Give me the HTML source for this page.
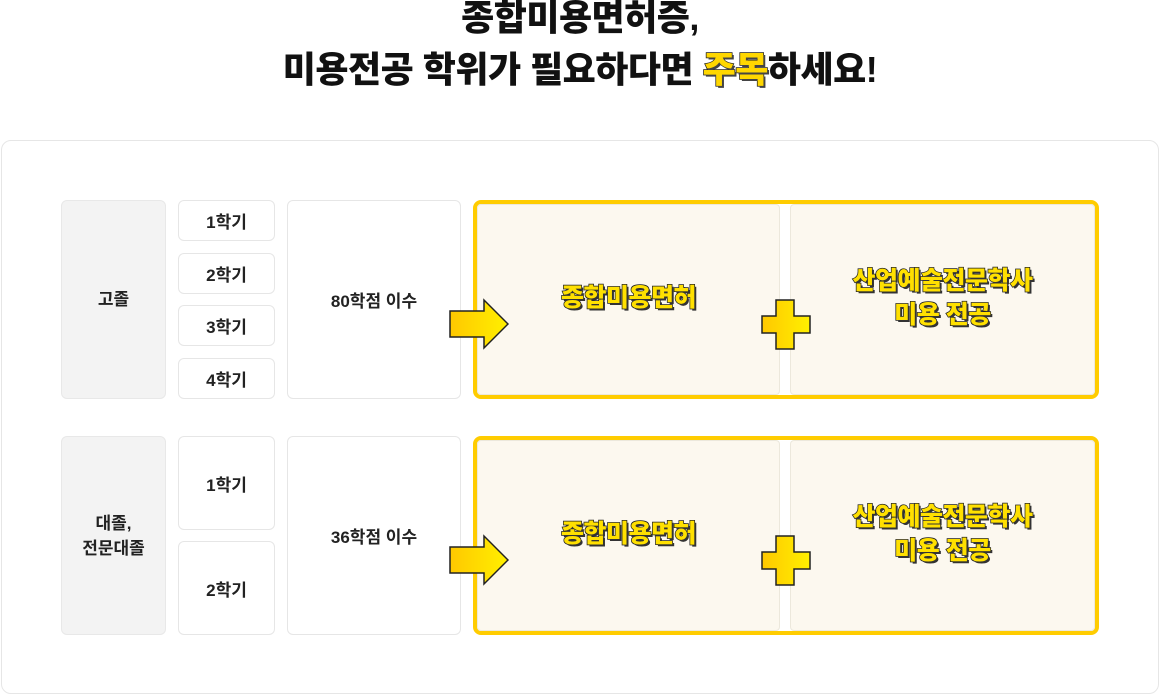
<!DOCTYPE html>
<html><head><meta charset="utf-8"><style>
body{margin:0;width:1160px;height:696px;background:#fff;font-family:"Liberation Sans","Noto Sans CJK KR",sans-serif;position:relative;overflow:hidden}
.a{position:absolute;box-sizing:border-box}
.t{left:0;width:1160px;text-align:center;font-weight:900;font-size:36px;color:#111;letter-spacing:-0.5px}
.card{left:1px;top:140px;width:1158px;height:554px;border:1px solid #e6e6e6;border-radius:10px}
.g{background:#f3f3f3;border:1px solid #e8e8e8;border-radius:6px;display:flex;align-items:center;justify-content:center;text-align:center;font-size:17px;font-weight:700;color:#222;line-height:25px}
.w{background:#fff;border:1px solid #e6e6e6;border-radius:6px;display:flex;align-items:center;justify-content:center;font-size:17px;font-weight:700;color:#222}
.yb{border:4px solid #ffcc00;border-radius:8px}
.c{background:#fcf8ef;border:1px solid #ece8dc;border-radius:4px;display:flex;align-items:center;justify-content:center;text-align:center}
.yt{font-size:25px;font-weight:900;color:#ffe000;line-height:34px;-webkit-text-stroke:1.5px #222;paint-order:stroke fill;text-shadow:2px 2px 0 #333;letter-spacing:-0.5px;margin-top:-4px}
.hl{color:#ffd700;-webkit-text-stroke:1.5px #222;paint-order:stroke fill;text-shadow:2px 2px 0 #444}
</style></head><body>
<div class="a t" style="top:-2px;line-height:40px">종합미용면허증,</div>
<div class="a t" style="top:50px;line-height:40px">미용전공 학위가 필요하다면 <span class="hl">주목</span>하세요!</div>
<div class="a card"></div>

<div class="a g" style="left:61px;top:200px;width:105px;height:199px">고졸</div>
<div class="a w" style="left:178px;top:200px;width:97px;height:41px">1학기</div>
<div class="a w" style="left:178px;top:253px;width:97px;height:41px">2학기</div>
<div class="a w" style="left:178px;top:305px;width:97px;height:41px">3학기</div>
<div class="a w" style="left:178px;top:358px;width:97px;height:41px">4학기</div>
<div class="a w" style="left:287px;top:200px;width:174px;height:199px">80학점 이수</div>
<div class="a yb" style="left:473px;top:200px;width:626px;height:199px"></div>
<div class="a c" style="left:477px;top:204px;width:303px;height:191px"><span class="yt">종합미용면허</span></div>
<div class="a c" style="left:790px;top:204px;width:305px;height:191px"><span class="yt">산업예술전문학사<br>미용 전공</span></div>

<div class="a g" style="left:61px;top:436px;width:105px;height:199px">대졸,<br>전문대졸</div>
<div class="a w" style="left:178px;top:436px;width:97px;height:94px">1학기</div>
<div class="a w" style="left:178px;top:541px;width:97px;height:94px">2학기</div>
<div class="a w" style="left:287px;top:436px;width:174px;height:199px">36학점 이수</div>
<div class="a yb" style="left:473px;top:436px;width:626px;height:199px"></div>
<div class="a c" style="left:477px;top:440px;width:303px;height:191px"><span class="yt">종합미용면허</span></div>
<div class="a c" style="left:790px;top:440px;width:305px;height:191px"><span class="yt">산업예술전문학사<br>미용 전공</span></div>

<svg class="a" style="left:0;top:0" width="1160" height="696">
<defs><linearGradient id="gr" x1="0" x2="1"><stop offset="0" stop-color="#ffc800"/><stop offset="1" stop-color="#fff000"/></linearGradient></defs>
<g stroke="#222" stroke-width="1.5" fill="url(#gr)">
<path d="M450,311 H484 V300 L508,324 L484,348 V337 H450 Z"/>
<path d="M450,547 H484 V536 L508,560 L484,584 V573 H450 Z"/>
<path d="M776,300 H794 V316 H810 V333 H794 V349 H776 V333 H762 V316 H776 Z"/>
<path d="M776,536 H794 V552 H810 V569 H794 V585 H776 V569 H762 V552 H776 Z"/>
</g></svg>
</body></html>
